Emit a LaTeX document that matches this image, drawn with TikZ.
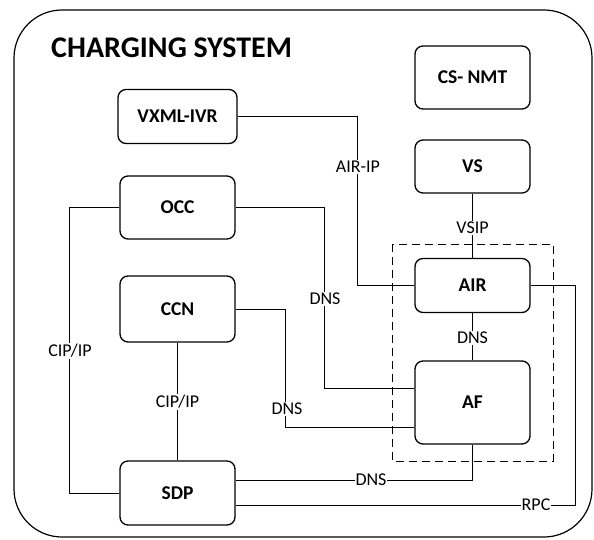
\documentclass[tikz,border=0pt]{standalone}
\usepackage{fontspec}
\setmainfont{Carlito}
\usepackage{tikz}
\usetikzlibrary{arrows.meta,positioning,calc}

\begin{document}
\begin{tikzpicture}[x=1pt,y=-1pt,
  blk/.style={draw,rounded corners=8pt,line width=1.3pt,minimum width=115pt,
    font=\fontsize{19.5}{21}\selectfont\bfseries,align=center},
  lbl/.style={fill=white,inner sep=1pt,font=\fontsize{18}{19}\selectfont},
  lnk/.style={line width=1pt}]
  \useasboundingbox (0,0) rectangle (594,540);
  \draw[line width=1.2pt,rounded corners=48pt] (14,10) rectangle (592,537);
  \node[anchor=west,inner sep=0pt,font=\fontsize{30}{32}\selectfont\bfseries] (ttl) at (51,48){CHARGING SYSTEM};
  \node[blk,minimum height=63pt](csnmt) at (472.5,77.5){CS- NMT};
  \node[blk,minimum width=119pt,minimum height=54pt](vxml) at (177.5,116.5){VXML-IVR};
  \node[blk,minimum height=53pt](vs) at (472.5,166.5){VS};
  \node[blk,minimum height=63pt](occ) at (177.5,207.5){OCC};
  \node[blk,minimum height=54pt](air) at (472.5,285.5){AIR};
  \node[blk,minimum height=66pt](ccn) at (177.5,309){CCN};
  \node[blk,minimum height=83pt](af) at (472.5,402.5){AF};
  \node[blk,minimum height=64pt](sdp) at (177.5,493){SDP};
  \draw[line width=1pt,dash pattern=on 8pt off 5pt] (392,244) rectangle (553,461);
  \draw[lnk] (vxml.east) -| ([xshift=-57pt]air.west) -- (air.west);
  \draw[lnk] (occ.east) -| ([xshift=-90pt,yshift=14.5pt]af.west) -- ([yshift=14.5pt]af.west);
  \draw[lnk] (ccn.east) -| ([xshift=-129pt,yshift=-24.5pt]af.west) -- ([yshift=-24.5pt]af.west);
  \draw[lnk] (occ.west) -| ([xshift=-50pt]sdp.west) -- (sdp.west);
  \draw[lnk] (ccn.south) -- (sdp.north);
  \draw[lnk] (vs.south) -- (air.north);
  \draw[lnk] (air.south) -- (af.north);
  \draw[lnk] (af.south) |- ([yshift=13pt]sdp.east);
  \draw[lnk] (air.east) -| ([xshift=340pt,yshift=-12pt]sdp.east) -- ([yshift=-12pt]sdp.east);
  \node[lbl] (lairip) at (358,167){AIR-IP};
  \node[lbl] (lvsip) at (472.5,228){VSIP};
  \node[lbl] (ldns1) at (325,299){DNS};
  \node[lbl] (ldns2) at (472.5,338){DNS};
  \node[lbl] (lcip1) at (70,351){CIP/IP};
  \node[lbl] (lcip2) at (177.5,402){CIP/IP};
  \node[lbl] (ldns3) at (287,409){DNS};
  \node[lbl] (ldns4) at (371,480){DNS};
  \node[lbl] (lrpc) at (536,505){RPC};
\end{tikzpicture}
\end{document}
